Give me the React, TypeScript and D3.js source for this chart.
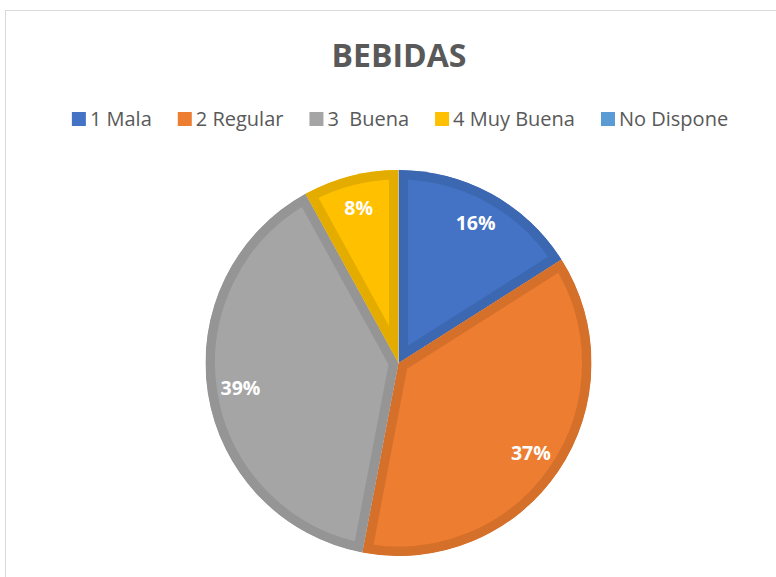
import React, { useEffect, useRef } from 'react';
import * as d3 from 'd3';

const categories = ['1 Mala', '2 Regular', '3  Buena', '4 Muy Buena', 'No Dispone'];
const values = [16, 37, 39, 8, 0];
const fills = ['#4472C4', '#ED7D31', '#A5A5A5', '#FFC000', '#5B9BD5'];
const strokes = ['#3C67B1', '#D5702B', '#959595', '#E5AC00', '#5189C0'];

const WIDTH = 776;
const HEIGHT = 577;

const App = () => {
  const ref = useRef<SVGSVGElement>(null);

  useEffect(() => {
    const svg = d3.select(ref.current);
    svg.selectAll('*').remove();

    svg.append('rect')
      .attr('x', 5.5).attr('y', 10.5)
      .attr('width', WIDTH + 20).attr('height', HEIGHT + 20)
      .attr('fill', '#fff').attr('stroke', '#d9d9d9');

    svg.append('text')
      .attr('x', 399).attr('y', 67)
      .attr('text-anchor', 'middle')
      .attr('font-family', 'Open Sans, sans-serif')
      .attr('font-weight', 'bold')
      .attr('font-size', 32)
      .attr('fill', '#595959')
      .text('BEBIDAS');

    // legend, measured then centred
    const legend = svg.append('g');
    const items = legend.selectAll('g')
      .data(categories)
      .join('g');
    items.append('rect')
      .attr('width', 14).attr('height', 14)
      .attr('y', -7)
      .attr('fill', (_, i) => fills[i]);
    const labels = items.append('text')
      .attr('x', 18)
      .attr('dy', '0.35em')
      .attr('font-family', 'Open Sans, sans-serif')
      .attr('font-size', 20)
      .attr('fill', '#595959')
      .style('white-space', 'pre')
      .text(d => d);
    const widths = labels.nodes().map(n => 18 + (n as SVGTextElement).getComputedTextLength());
    const gap = 26;
    const total = d3.sum(widths) + gap * (widths.length - 1);
    let x = 400 - total / 2;
    items.attr('transform', (_, i) => {
      const t = `translate(${x},119)`;
      x += widths[i] + gap;
      return t;
    });

    const cx = 398.5;
    const cy = 363;
    const r = 193;
    const pie = d3.pie<number>().sort(null).value(d => d);
    const arcs = pie(values);
    const arc = d3.arc<d3.PieArcDatum<number>>().innerRadius(0).outerRadius(r);

    const g = svg.append('g').attr('transform', `translate(${cx},${cy})`);
    const defs = svg.append('defs');
    arcs.forEach((a, i) => {
      if (a.value === 0) return;
      defs.append('clipPath').attr('id', `slice-${i}`)
        .append('path').attr('d', arc(a));
      g.append('path')
        .attr('d', arc(a))
        .attr('fill', fills[i])
        .attr('stroke', strokes[i])
        .attr('stroke-width', 19)
        .attr('stroke-linejoin', 'round')
        .attr('clip-path', `url(#slice-${i})`);
    });

    const labelArc = d3.arc<d3.PieArcDatum<number>>().innerRadius(160).outerRadius(160);
    g.selectAll('text.pct')
      .data(arcs.filter(a => a.value > 0))
      .join('text')
      .attr('class', 'pct')
      .attr('transform', d => `translate(${labelArc.centroid(d)})`)
      .attr('text-anchor', 'middle')
      .attr('dy', '0.35em')
      .attr('font-family', 'Open Sans, sans-serif')
      .attr('font-weight', 'bold')
      .attr('font-size', 19.5)
      .attr('fill', '#fff')
      .text(d => `${Math.round((d.value / d3.sum(values)) * 100)}%`);
  }, []);

  return (
    <svg
      ref={ref}
      width={WIDTH}
      height={HEIGHT}
      style={{ position: 'absolute', left: 0, top: 0, background: '#fff' }}
    />
  );
};

export default App;
